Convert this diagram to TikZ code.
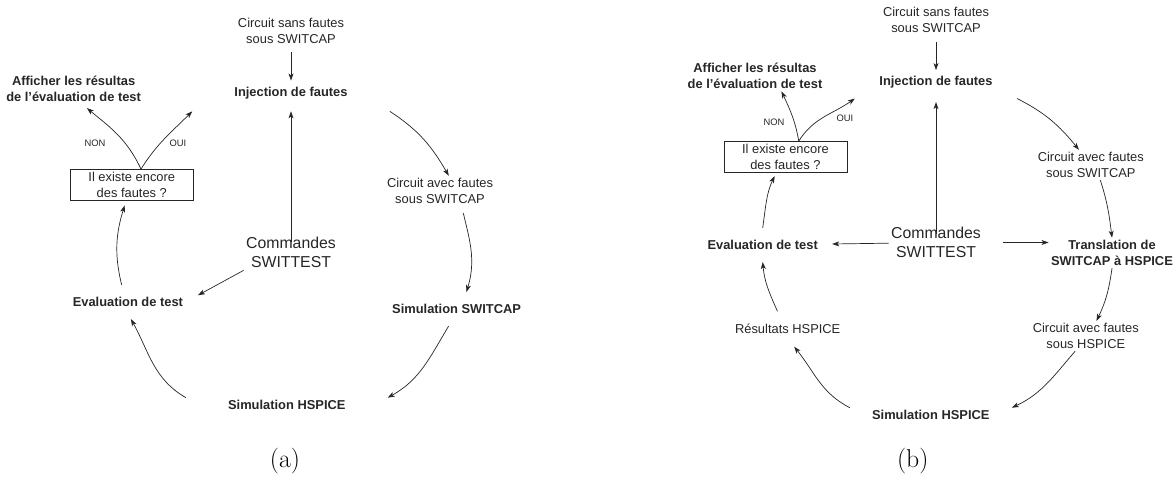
\documentclass[tikz,border=0pt]{standalone}
\usepackage{fontspec}
\newfontfamily\arialfont{Liberation Sans}
\usetikzlibrary{arrows.meta}
\definecolor{ink}{HTML}{262626}

\begin{document}
\begin{tikzpicture}[x=0.03cm, y=0.03cm,
        every node/.style = {font=\arialfont\fontsize{11}{13.5}\selectfont, text=ink, align=center, inner sep=2pt},
        stepbox/.style = {font=\arialfont\bfseries\fontsize{11}{13.5}\selectfont},
        cmdbox/.style = {font=\arialfont\fontsize{13.5}{16.2}\selectfont},
        askbox/.style = {draw=ink, line width=0.6pt, inner xsep=15.5pt, inner ysep=2.5pt},
        answer/.style = {font=\arialfont\fontsize{8}{9}\selectfont},
        sublabel/.style = {font=\fontsize{22}{26}\selectfont, text=black},
        arr/.style = {draw=ink, line width=0.6pt, -{Stealth[length=6pt, width=4.2pt, inset=1.6pt]}}]
        \useasboundingbox (0,0) rectangle (1175,-479);

        % (a)
        \node (sansA) at (291,-31) {Circuit sans fautes\\sous SWITCAP};
        \node[stepbox, outer xsep=34pt, outer ysep=8.5pt] (injA) at (291,-93) {Injection de fautes};
        \node[stepbox] (affA) at (73.6,-89) {Afficher les résultas\\de l’évaluation de test};
        \node[askbox] (boxA) at (131.8,-185) {Il existe encore\\des fautes ?};
        \node[answer] (nonA) at (95,-143) {NON};
        \node[answer] (ouiA) at (178,-143) {OUI};
        \node (cavA) at (440,-191) {Circuit avec fautes\\sous SWITCAP};
        \node[cmdbox] (cmdA) at (291,-252.5) {Commandes\\SWITTEST};
        \node[stepbox, outer ysep=8.5pt] (simsA) at (456.6,-309) {Simulation SWITCAP};
        \node[stepbox, outer xsep=34pt] (simhA) at (286.8,-405) {Simulation HSPICE};
        \node[stepbox, outer ysep=8.5pt] (evalA) at (127.9,-302) {Evaluation de test};
        \node[sublabel] (capA) at (285,-461) {(a)};

        \draw[arr, shorten <=5pt, shorten >=-5pt] (sansA) -- (injA);
        \draw[arr, shorten <=-6pt] (cmdA) -- (injA);
        \draw[arr] (injA.south east) to[out=-33, in=120] (cavA.60);
        \draw[arr, shorten <=6pt] (cavA.-35) to[out=-77, in=73] (simsA.60);
        \draw[arr] (simsA.-115) to[out=-121, in=29] (simhA.north east);
        \draw[arr] (simhA.north west) to[out=150, in=-61] (evalA.-80);
        \draw[arr, shorten >=4pt] (evalA.110) to[out=104, in=-107] (boxA.-110);
        \draw[arr, shorten >=12pt] (cmdA.south west) -- (evalA.east);
        \draw[arr, shorten >=5pt] (boxA.60) to[out=115, in=-40] (affA.-60);
        \draw[arr] (boxA.60) to[out=58, in=-135] (injA.south west);

        % (b)
        \node (sansB) at (936,-20) {Circuit sans fautes\\sous SWITCAP};
        \node[stepbox, outer xsep=19pt, outer ysep=7pt] (injB) at (936,-82) {Injection de fautes};
        \node[stepbox] (affB) at (755,-76) {Afficher les résultas\\de l’évaluation de test};
        \node[askbox] (boxB) at (785.4,-157) {Il existe encore\\des fautes ?};
        \node[answer] (nonB) at (774,-122) {NON};
        \node[answer] (ouiB) at (845,-118) {OUI};
        \node (cavsB) at (1090.8,-165) {Circuit avec fautes\\sous SWITCAP};
        \node[stepbox] (transB) at (1112,-253) {Translation de\\SWITCAP à HSPICE};
        \node[cmdbox] (cmdB) at (936,-242.5) {Commandes\\SWITTEST};
        \node[stepbox, outer ysep=8.5pt] (evalB) at (762.7,-245) {Evaluation de test};
        \node (cavhB) at (1085.8,-336) {Circuit avec fautes\\sous HSPICE};
        \node[stepbox, outer xsep=17pt] (simhB) at (930.8,-415) {Simulation HSPICE};
        \node[outer ysep=9pt] (resB) at (787.7,-329) {Résultats HSPICE};
        \node[sublabel] (capB) at (912.7,-461) {(b)};

        \draw[arr, shorten <=6pt, shorten >=-4pt] (sansB) -- (injB);
        \draw[arr, shorten <=-8pt, shorten >=3pt] (cmdB) -- (injB);
        \draw[arr, shorten >=10pt] (cmdB) -- (evalB);
        \draw[arr, shorten <=17pt] (cmdB) -- (cmdB -| transB.west);
        \draw[arr] (injB.south east) to[out=-27, in=129] (cavsB.128);
        \draw[arr] (cavsB.-58) to[out=-72, in=97] (transB.north);
        \draw[arr] (transB.south) to[out=-98, in=64] (cavhB.55);
        \draw[arr] (cavhB.-125) to[out=-131, in=25] (simhB.north east);
        \draw[arr] (simhB.north west) to[out=153, in=-51] (resB.-70);
        \draw[arr] (resB.120) to[out=114, in=-85] (evalB.south);
        \draw[arr, shorten >=3pt] (evalB.north) to[out=82, in=-116] (boxB.-120);
        \draw[arr] (boxB.50) to[out=100, in=-65] (affB.-30);
        \draw[arr] (boxB.50) to[out=58, in=-145] (injB.south west);
\end{tikzpicture}
\end{document}
